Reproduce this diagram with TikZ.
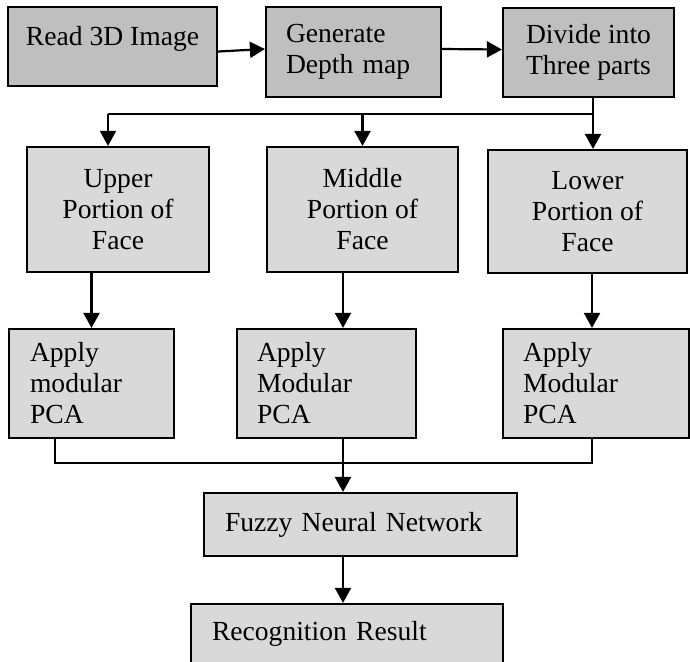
\documentclass[tikz,border=0pt]{standalone}
\usepackage{fontspec}
\setmainfont{Liberation Serif}
\usetikzlibrary{arrows.meta}

\begin{document}
\begin{tikzpicture}[x=0.5pt, y=-0.5pt, line width=1.1pt,
  >={Triangle[length=7.5pt,width=8pt]},
  stage/.style={draw, fill=black!25, inner sep=0pt,
    font=\fontsize{13.8}{15.5}\selectfont},
  part/.style={draw, fill=black!15, inner sep=0pt,
    font=\fontsize{13.8}{15.5}\selectfont}]
\useasboundingbox (0,0) rectangle (690,661);
% first row
\node[stage, minimum width=104.5pt, minimum height=39.5pt,
  text height=9pt, text depth=10.5pt] (rd) at (112.5,46.5) {Read 3D Image};
\node[stage, minimum width=87.5pt, minimum height=45pt,
  text width=67.5pt, align=left] (gd) at (353.5,52) {Generate\\Depth map};
\node[stage, minimum width=85.5pt, minimum height=44.5pt,
  align=center] (dv) at (588.5,52.5) {Divide into\\Three parts};
% three portions
\node[part, minimum width=91pt, minimum height=62.5pt, align=center]
  (up) at (118,209.5) {Upper\\Portion of\\Face};
\node[part, minimum width=95.5pt, minimum height=62.5pt, align=center]
  (md) at (362.5,209.5) {Middle\\Portion of\\Face};
\node[part, minimum width=99.5pt, minimum height=61.5pt, align=center]
  (lw) at (587.5,211.5) {Lower\\Portion of\\Face};
% modular PCA
\node[part, minimum width=82.5pt, minimum height=54.5pt,
  text width=61.5pt, align=left] (pa) at (91.5,383.5) {Apply\\modular\\PCA};
\node[part, minimum width=89.5pt, minimum height=54.5pt,
  text width=69.5pt, align=left] (pb) at (326.5,383.5) {Apply\\Modular\\PCA};
\node[part, minimum width=93pt, minimum height=54.5pt,
  text width=73pt, align=left] (pc) at (596,383.5) {Apply\\Modular\\PCA};
% classifier and result
\node[part, minimum width=156.5pt, minimum height=31.5pt,
  text width=135.5pt, align=left] (fz) at (360.5,524.5) {Fuzzy Neural Network};
\node[part, minimum width=156pt, minimum height=30pt,
  text width=135pt, align=left] (rc) at (347,634) {Recognition Result};

\coordinate (sp) at (593,114);
\coordinate (sl) at (108,114);
\coordinate (lf) at (55,463);
\coordinate (jn) at (343,463);
\coordinate (rt) at (592,463);

\draw[->] ([yshift=-2.5pt]rd.east) -- ([yshift=1.5pt]gd.west);
\draw[->] ([yshift=1.5pt]gd.east) -- ([yshift=1.5pt]dv.west);
% split
\draw (sp |- dv.south) -- (sp) -- (sl);
\draw[->] (sl) -- (sl |- up.north);
\draw[->] (md.north |- sp) -- (md.north);
\draw[->] (sp) -- (sp |- lw.north);
\draw[->] (pa.north |- up.south) -- (pa.north);
\draw[->] (jn |- md.south) -- (jn |- pb.north);
\draw[->] (rt |- lw.south) -- (rt |- pc.north);
% merge
\draw (lf |- pa.south) -- (lf) -- (rt) -- (rt |- pc.south);
\draw[->] (jn |- pb.south) -- (jn |- fz.north);
\draw[->] (jn |- fz.south) -- (jn |- rc.north);
\end{tikzpicture}
\end{document}
